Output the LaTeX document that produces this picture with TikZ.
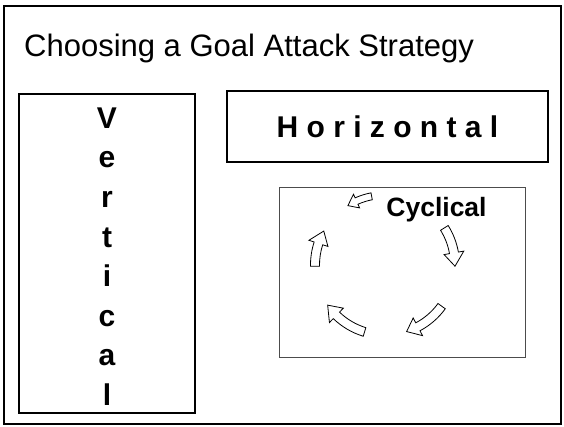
\documentclass[tikz,border=0pt]{standalone}
\usepackage{fontspec}
\setmainfont{Liberation Sans}

% one curved block arrow round the cycle: tail angle, neck angle, tip angle, half shaft, half head
\newcommand{\cycarc}[5]{%
	\draw[blockarrow] (#1:70pt+#4) arc[start angle=#1, end angle=#2, radius=70pt+#4] -- (#2:70pt+#5) -- (#3:70pt) -- (#2:70pt-#5) -- (#2:70pt-#4) arc[start angle=#2, end angle=#1, radius=70pt-#4] -- cycle;}

\begin{document}
\begin{tikzpicture}[x=1pt,y=1pt,
	panel/.style={draw, line width=1.2pt, inner sep=0pt},
	letters/.style={font=\fontsize{30}{39.6}\selectfont\bfseries},
	blockarrow/.style={draw, fill=white, line width=0.8pt, line join=miter}]
	\useasboundingbox (0,0) rectangle (564,426);
	%\draw[help lines] (0,0) grid[step=50] (564,426);
	\draw[line width=2pt] (4,2) rectangle (561,420);
	\node[anchor=base west, inner sep=0pt, font=\fontsize{31}{36}\selectfont] (title) at (24,369) {Choosing a Goal Attack Strategy};
	\node[panel, minimum width=176pt, minimum height=319pt] (vert) at (107,172.5) {};
	\node[letters, align=center, inner sep=0pt] (vertword) at ([yshift=-3pt]vert.center) {V\\e\\r\\t\\i\\c\\a\\l};
	\node[panel, letters, minimum width=321pt, minimum height=71pt] (horiz) at (387.5,299.5) {H o r i z o n t a l};
	\node[draw=gray!60!black, line width=0.8pt, minimum width=246pt, minimum height=170pt] (cycbox) at (402,154) {};
	\node[anchor=base, font=\fontsize{26.5}{30}\selectfont\bfseries] (cyclical) at (436.5,210) {Cyclical};
	\begin{scope}[shift={(385,161)}]
		\cycarc{181}{162}{151}{4.5pt}{10pt}
		\cycarc{32}{10}{-1}{4.5pt}{10pt}
		\cycarc{-36}{-62}{-72}{4.5pt}{10pt}
		\cycarc{-107}{-134}{-145}{4.5pt}{10pt}
		\cycarc{101}{114}{122}{3.5pt}{7.5pt}
	\end{scope}
\end{tikzpicture}
\end{document}
